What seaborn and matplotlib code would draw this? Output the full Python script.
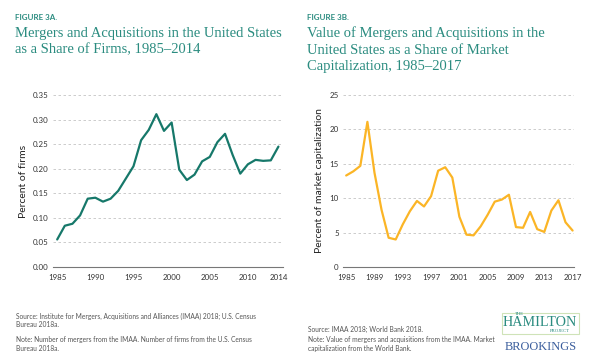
import matplotlib
matplotlib.use("Agg")
import matplotlib.pyplot as plt
import seaborn as sns
import pandas as pd
from matplotlib.patches import Rectangle

# ---- data ----
years_a = list(range(1985, 2015))
share_firms = [0.056, 0.084, 0.088, 0.105, 0.139, 0.141, 0.133, 0.139, 0.155, 0.180,
               0.205, 0.258, 0.279, 0.311, 0.277, 0.294, 0.198, 0.177, 0.188, 0.215,
               0.224, 0.254, 0.271, 0.228, 0.190, 0.209, 0.218, 0.216, 0.217, 0.245]
years_b = list(range(1985, 2018))
share_mcap = [13.3, 13.9, 14.7, 21.1, 13.7, 8.3, 4.25, 4.0, 6.2, 8.1,
              9.6, 8.8, 10.3, 14.0, 14.5, 13.0, 7.3, 4.7, 4.6, 5.9,
              7.6, 9.5, 9.8, 10.5, 5.8, 5.7, 8.0, 5.5, 5.1, 8.2,
              9.7, 6.5, 5.3]
xticks_a = [1985, 1990, 1995, 2000, 2005, 2010, 2014]
xticks_b = [1985, 1989, 1993, 1997, 2001, 2005, 2009, 2013, 2017]
yticks_a = [0.00, 0.05, 0.10, 0.15, 0.20, 0.25, 0.30, 0.35]
yticks_b = [0, 5, 10, 15, 20, 25]

df_a = pd.DataFrame({"year": years_a, "value": share_firms})
df_b = pd.DataFrame({"year": years_b, "value": share_mcap})

sns.set_theme(style="white")
SANS = ["Lato", "DejaVu Sans"]
plt.rcParams["font.family"] = SANS

W, H = 601, 355
fig = plt.figure(figsize=(W / 100, H / 100), dpi=100)
fig.patch.set_facecolor("white")

def px_axes(x0, x1, ytop, ybot):
    return fig.add_axes([x0 / W, 1 - ybot / H, (x1 - x0) / W, (ybot - ytop) / H])

ax1 = px_axes(53, 283, 95, 267)
ax2 = px_axes(343, 574, 95, 267)

TEAL_LINE = "#16786a"
GOLD = "#fbb526"
TITLE_C = "#2b8c80"
TXT = "#333333"
FOOT = "#555555"

sns.lineplot(data=df_a, x="year", y="value", ax=ax1, color=TEAL_LINE, linewidth=1.6)
sns.lineplot(data=df_b, x="year", y="value", ax=ax2, color=GOLD, linewidth=1.6)

def style(ax, xticks, yticks, ylim, xlim, ylabel, fmt):
    ax.set_xlim(*xlim)
    ax.set_ylim(*ylim)
    ax.set_xticks(xticks)
    ax.set_yticks(yticks)
    ax.set_xticklabels([str(t) for t in xticks])
    ax.set_yticklabels([fmt(t) for t in yticks])
    for s in ["top", "right", "left"]:
        ax.spines[s].set_visible(False)
    ax.spines["bottom"].set_color("#777777")
    ax.spines["bottom"].set_linewidth(0.8)
    ax.tick_params(axis="both", length=0, labelsize=5.7, labelcolor=TXT)
    ax.tick_params(axis="y", pad=3)
    ax.tick_params(axis="x", pad=5)
    for t in yticks[1:]:
        ax.axhline(t, color="#c4c4c4", linewidth=0.6, linestyle=(0, (3, 3)), zorder=0)
    ax.set_xlabel("")
    ax.set_ylabel(ylabel, fontsize=7.5, color="#222222", labelpad=4)
    ax.set_facecolor("white")

style(ax1, xticks_a, yticks_a, (0, 0.35), (1984.45, 2014.6), "Percent of firms",
      lambda v: f"{v:.2f}")
style(ax2, xticks_b, yticks_b, (0, 25), (1984.55, 2017.2), "Percent of market capitalization",
      lambda v: f"{v:d}")

# ---- titles ----
def ftext(x, y, s, **kw):
    return fig.text(x / W, 1 - y / H, s, **kw)

SERIF = ["Liberation Serif", "DejaVu Serif"]
ftext(15, 17, "FIGURE 3A.", fontsize=5.8, fontweight="bold", color=TITLE_C, va="center")
ftext(15, 26.5, "Mergers and Acquisitions in the United States\nas a Share of Firms, 1985\u20132014",
      fontsize=10.5, family=SERIF, color=TITLE_C, va="top", linespacing=1.33)
ftext(307, 17, "FIGURE 3B.", fontsize=5.8, fontweight="bold", color=TITLE_C, va="center")
ftext(307, 26.5, "Value of Mergers and Acquisitions in the\nUnited States as a Share of Market\nCapitalization, 1985\u20132017",
      fontsize=10.5, family=SERIF, color=TITLE_C, va="top", linespacing=1.33)

# ---- footers ----
ftext(16, 320.5, "Source: Institute for Mergers, Acquisitions and Alliances (IMAA) 2018; U.S. Census\nBureau 2018a.",
      fontsize=4.75, color=FOOT, va="center", linespacing=1.3)
ftext(16, 344, "Note: Number of mergers from the IMAA. Number of firms from the U.S. Census\nBureau 2018a.",
      fontsize=4.75, color=FOOT, va="center", linespacing=1.3)
ftext(308, 329.5, "Source: IMAA 2018; World Bank 2018.",
      fontsize=4.75, color=FOOT, va="center")
ftext(308, 344, "Note: Value of mergers and acquisitions from the IMAA. Market\ncapitalization from the World Bank.",
      fontsize=4.75, color=FOOT, va="center", linespacing=1.3)

# ---- logo ----
fig.patches.append(Rectangle((502 / W, 1 - 334 / H), 77 / W, 21 / H, transform=fig.transFigure,
                             fill=False, edgecolor="#cfe3b8", linewidth=0.8))
ftext(519, 314, "THE", fontsize=3.4, family=SERIF, color=TITLE_C, ha="center", va="center")
ftext(540, 322, "HAMILTON", fontsize=10.2, family=SERIF, color=TITLE_C, ha="center", va="center")
ftext(560, 331, "PROJECT", fontsize=3.4, family=SERIF, color=TITLE_C, ha="center", va="center")
ftext(540.5, 346.5, "BROOKINGS", fontsize=8.9, family=SERIF, color="#3a5d9c", ha="center", va="center")

fig.savefig("out.png", dpi=100, facecolor="white")
